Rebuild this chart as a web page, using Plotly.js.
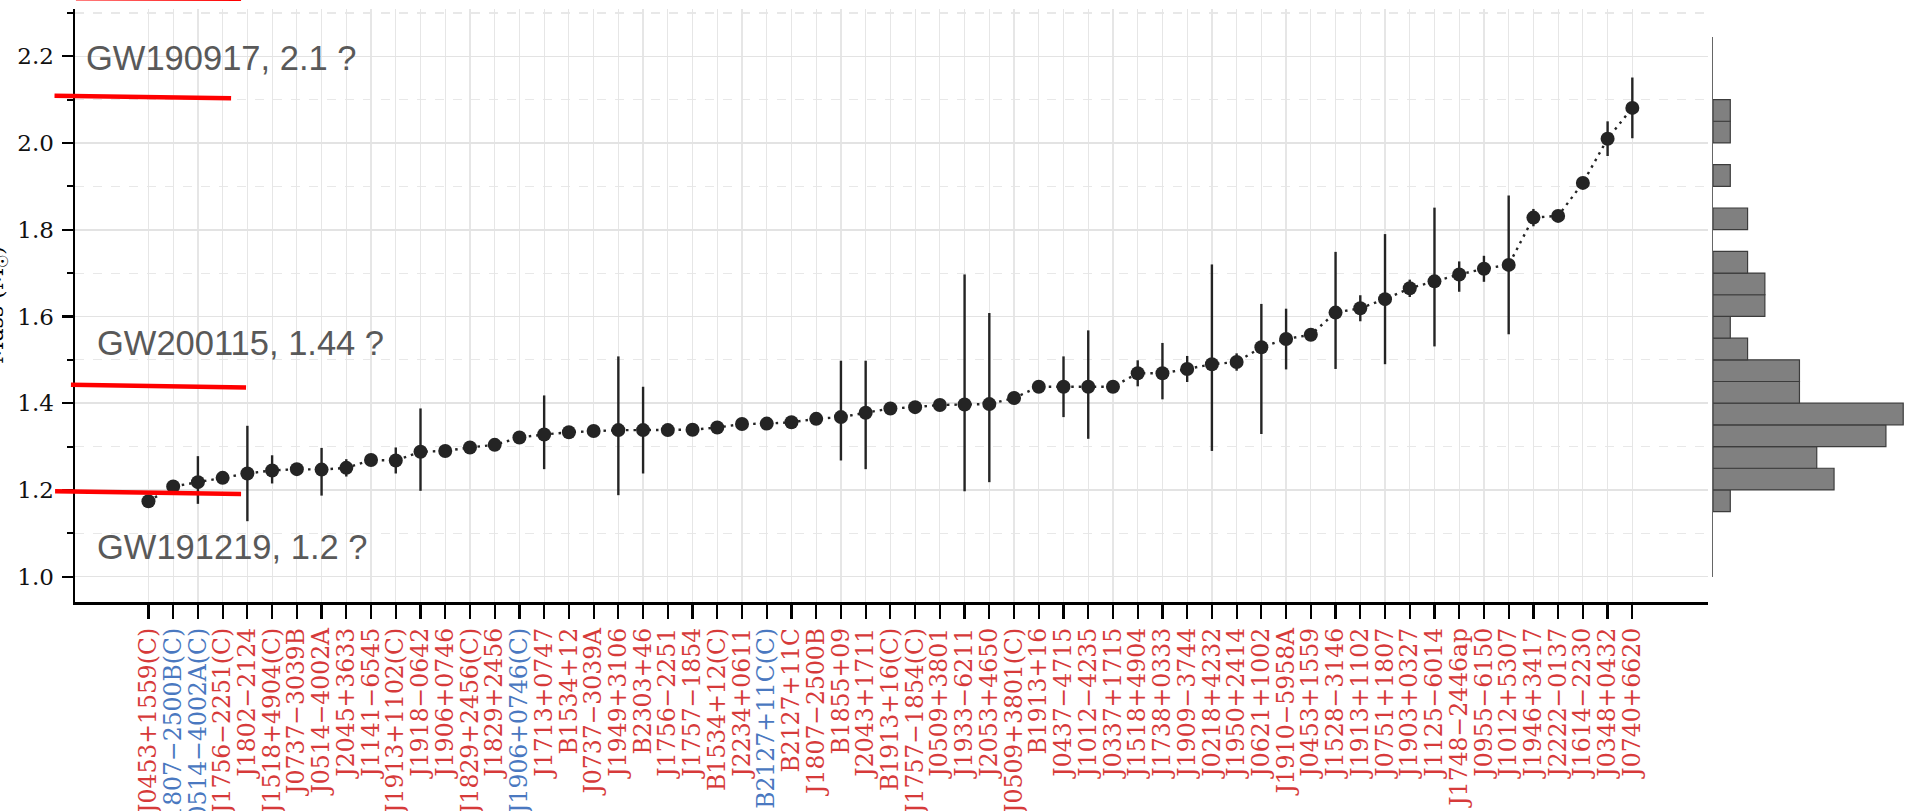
<!DOCTYPE html>
<html><head><meta charset="utf-8">
<script src="https://cdn.plot.ly/plotly-3.0.1.min.js"></script>
<style>html,body{margin:0;padding:0;background:#fff;overflow:hidden}</style>
</head><body><div id="chart" style="width:1920px;height:811px"></div>
<script>
const pulsars = ["J0453+1559(C)","J1807−2500B(C)","J0514−4002A(C)","J1756−2251(C)","J1802−2124","J1518+4904(C)","J0737−3039B","J0514−4002A","J2045+3633","J1141−6545","J1913+1102(C)","J1918−0642","J1906+0746","J1829+2456(C)","J1829+2456","J1906+0746(C)","J1713+0747","B1534+12","J0737−3039A","J1949+3106","B2303+46","J1756−2251","J1757−1854","B1534+12(C)","J2234+0611","B2127+11C(C)","B2127+11C","J1807−2500B","B1855+09","J2043+1711","B1913+16(C)","J1757−1854(C)","J0509+3801","J1933−6211","J2053+4650","J0509+3801(C)","B1913+16","J0437−4715","J1012−4235","J0337+1715","J1518+4904","J1738+0333","J1909−3744","J0218+4232","J1950+2414","J0621+1002","J1910−5958A","J0453+1559","J1528−3146","J1913+1102","J0751+1807","J1903+0327","J1125−6014","J1748−2446ap","J0955−6150","J1012+5307","J1946+3417","J2222−0137","J1614−2230","J0348+0432","J0740+6620"];
const labelKind = ["r","b","b","r","r","r","r","r","r","r","r","r","r","r","r","b","r","r","r","r","r","r","r","r","r","b","r","r","r","r","r","r","r","r","r","r","r","r","r","r","r","r","r","r","r","r","r","r","r","r","r","r","r","r","r","r","r","r","r","r","r"];
const mass = [1.174,1.208,1.218,1.228,1.238,1.245,1.248,1.247,1.251,1.269,1.268,1.288,1.290,1.298,1.304,1.321,1.328,1.333,1.336,1.338,1.338,1.338,1.339,1.344,1.352,1.353,1.356,1.364,1.368,1.378,1.388,1.391,1.396,1.397,1.398,1.412,1.438,1.438,1.438,1.438,1.469,1.469,1.479,1.490,1.495,1.529,1.548,1.558,1.609,1.619,1.640,1.665,1.681,1.697,1.710,1.719,1.828,1.832,1.908,2.010,2.081];
const errPlus  = [0,0,0.06,0,0.11,0.035,0,0.05,0.02,0,0.03,0.10,0,0,0,0,0.09,0,0,0.17,0.10,0,0,0,0,0,0,0,0.13,0.12,0,0,0,0.30,0.21,0,0,0.07,0.13,0,0.03,0.07,0.03,0.23,0.02,0.10,0.07,0,0.14,0.03,0.15,0.02,0.17,0.03,0.03,0.16,0.02,0,0.01,0.04,0.07];
const errMinus = [0,0,0.05,0,0.11,0.03,0,0.06,0.02,0,0.03,0.09,0,0,0,0,0.08,0,0,0.15,0.10,0,0,0,0,0,0,0,0.10,0.13,0,0,0,0.20,0.18,0,0,0.07,0.12,0,0.03,0.06,0.03,0.20,0.02,0.20,0.07,0,0.13,0.03,0.15,0.02,0.15,0.04,0.03,0.16,0.02,0,0.01,0.04,0.07];
const histBins = {start: 1.15, end: 2.10, size: 0.05};
const yMajorTicks = [1.0,1.2,1.4,1.6,1.8,2.0,2.2];
const gwText = ["GW190917, 2.1 ?","GW200115, 1.44 ?","GW191219, 1.2 ?"];
const gwTextY = [2.196,1.539,1.068];
const gwLineStart = [2.109,1.4424,1.197];
const gwLineEnd = [2.103,1.4364,1.191];
const topLineStart = 2.334, topLineEnd = 2.3328;

const kindColor = {r:"#d63a3a", b:"#4a78c0"};
const ticktext = pulsars.map((p,i)=>`<span style="color:${kindColor[labelKind[i]]}">${p}</span>`);
const yRange = [0.9417, 2.309];
const ink = "#242424";

const traces = [
  {type:"scatter", mode:"lines+markers", x:pulsars, y:mass, xaxis:"x", yaxis:"y",
   line:{color:ink, width:2.4, dash:"2.5px,5px"},
   marker:{color:ink, size:14},
   error_y:{type:"data", symmetric:false, array:errPlus, arrayminus:errMinus, color:ink, thickness:2.4, width:0},
   hoverinfo:"skip", showlegend:false},
  {type:"histogram", y:mass, xaxis:"x2", yaxis:"y2", ybins:histBins, autobiny:false,
   marker:{color:"#808080", line:{color:"#3c3c3c", width:1.2}},
   hoverinfo:"skip", showlegend:false}
];

const paperY = v => (v - yRange[0])/(yRange[1]-yRange[0]);
const lineX = [[-0.0111,0.0846],[-0.0022,0.0927],[-0.0108,0.0900]];
const textX = [0.0051,0.0106,0.0106];
const shapes = gwLineStart.map((v,i)=>({type:"line", xref:"paper", yref:"y", x0:lineX[i][0], x1:lineX[i][1], y0:v, y1:gwLineEnd[i], line:{color:"#ff0000", width:4.5}}));
shapes.push({type:"line", xref:"paper", yref:"paper", x0:0.0005, x1:0.09, y0:paperY(topLineStart), y1:paperY(topLineEnd), line:{color:"#ff0000", width:4.5}});

const annotations = gwText.map((t,i)=>({text:t, xref:"paper", yref:"y", x:textX[i], y:gwTextY[i], xanchor:"left", yanchor:"middle", showarrow:false, font:{family:"Liberation Sans, Arial, sans-serif", size:34.5, color:"#595959"}}));
annotations.push({text:"Mass (M<sub>☉</sub>)", xref:"paper", yref:"paper", x:-0.0330, y:0.5, xanchor:"right", yanchor:"middle", textangle:-90, showarrow:false, font:{family:"DejaVu Serif, serif", size:22, color:"#000"}});

const layout = {
  width:1920, height:811, paper_bgcolor:"#fff", plot_bgcolor:"#fff",
  margin:{l:75, r:0, t:9, b:209, pad:0},
  showlegend:false, bargap:0,
  xaxis:{domain:[0,0.8851], type:"category", range:[-2.97,63.06], anchor:"y",
    tickvals:pulsars, ticktext:ticktext, tickangle:-90,
    tickfont:{family:"DejaVu Serif, serif", size:23.5},
    ticks:"outside", ticklen:14, tickwidth:2.2, tickcolor:"#000",
    ticklabelstandoff:0,
    showline:true, linecolor:"#000", linewidth:2.5,
    showgrid:true, gridcolor:"#e6e6e6", gridwidth:1.2, zeroline:false, automargin:false},
  yaxis:{domain:[0,1], range:yRange, anchor:"x",
    tickvals:yMajorTicks, tickformat:".1f",
    tickfont:{family:"DejaVu Serif, serif", size:23, color:"#111"},
    ticks:"outside", ticklen:11, tickwidth:2.2, tickcolor:"#000",
    ticklabelstandoff:3,
    minor:{dtick:0.1, tick0:0.9, ticks:"outside", ticklen:6, tickwidth:2, tickcolor:"#000", showgrid:true, gridcolor:"#e8e8e8", gridwidth:1.2, griddash:"dash"},
    showline:true, linecolor:"#000", linewidth:2.5,
    showgrid:true, gridcolor:"#e3e3e3", gridwidth:1.5, zeroline:false, automargin:false},
  xaxis2:{domain:[0.8878,1], range:[0,11.97], anchor:"y2", visible:false},
  yaxis2:{domain:[0.0427,0.9533], range:[1.0,2.245], anchor:"x2", showline:true, linecolor:"#666", linewidth:1.3,
    showgrid:false, zeroline:false, showticklabels:false, ticks:""},
  shapes:shapes, annotations:annotations
};
Plotly.newPlot("chart", traces, layout, {displayModeBar:false, staticPlot:true});
</script></body></html>
